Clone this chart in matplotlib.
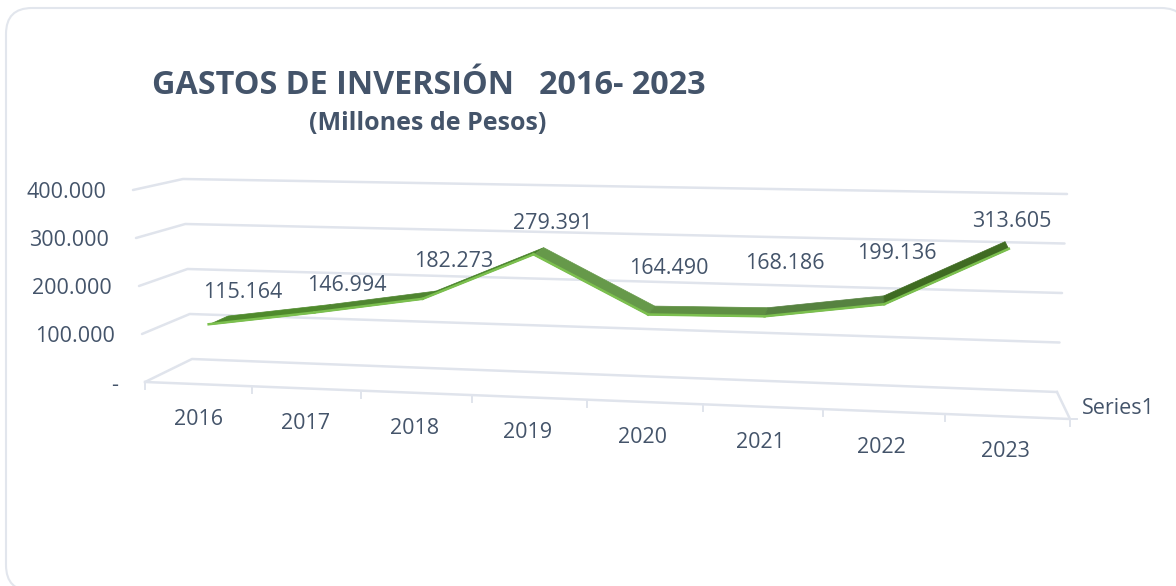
import matplotlib
matplotlib.use("Agg")
from matplotlib import pyplot as plt
from matplotlib.patches import FancyBboxPatch

years = ["2016", "2017", "2018", "2019", "2020", "2021", "2022", "2023"]
gastos = [115164, 146994, 182273, 279391, 164490, 168186, 199136, 313605]
axis_values = [0, 100000, 200000, 300000, 400000]
axis_labels = ["-", "100.000", "200.000", "300.000", "400.000"]
series_name = "Series1"

# label offsets from the ribbon, in pixels
label_dx = [30, 29, 28, 16, 18, 18, 11, 2]
label_dy = [-28, -24, -34, -28, -42, -49, -47, -24]
# shade of each ribbon segment
top_colors = ["#4f8a2c", "#4f8530", "#47802a", "#66994a", "#5f8f43", "#568240", "#3f6b22"]

text_color = "#44546a"
grid_color = "#e0e4ec"
front_color = "#7cc04f"
y_max = 400000.0
n = len(years)


# Excel 3-D look: category and value axes mapped on a perspective box
def project(u, v, d):
    r = 1.095
    s = u / (u + (n - u) * r)
    f = v / y_max
    fx = (1 - s) * (145 - 12 * f) + s * (1070 + 10 * f)
    fy = (1 - s) * (382 - 192 * f) + s * (419 - 210 * f)
    bx = (1 - s) * (192 - 9 * f) + s * (1057 + 10 * f)
    by = (1 - s) * (359 - 180 * f) + s * (392 - 198 * f)
    return fx + (bx - fx) * d, fy + (by - fy) * d


# small correction so the ribbon sits where Excel put it
def ribbon_u(i):
    return i + 0.5 + 0.045 - 0.01 * i


plt.rcParams["font.family"] = ["Open Sans", "DejaVu Sans"]
fig = plt.figure(figsize=(11.76, 5.86), dpi=100)
ax = fig.add_axes([0, 0, 1, 1])
ax.set_xlim(0, 1176)
ax.set_ylim(586, 0)
ax.axis("off")

card = FancyBboxPatch((6, 8), 1181, 583, boxstyle="round,pad=0,rounding_size=26",
                      fc="white", ec="#e2e6ed", lw=1.5)
ax.add_patch(card)

# gridlines with the wall part
for v, lab in zip(axis_values, axis_labels):
    a = project(0, v, 0)
    b = project(0, v, 1)
    c = project(n, v, 1)
    ax.plot([a[0], b[0], c[0]], [a[1], b[1], c[1]], color=grid_color, lw=1.8, solid_capstyle="round")
    ax.text(a[0] - 27 if v else 118, a[1] + 3, lab, color=text_color, fontsize=15.5, ha="right", va="center")

# floor front edge, right edge, ticks
a = project(0, 0, 0)
b = project(n, 0, 0)
c = project(n, 0, 1)
ax.plot([a[0], b[0], c[0]], [a[1], b[1], c[1]], color=grid_color, lw=1.8)
ax.plot([b[0], b[0] + 7], [b[1], b[1]], color=grid_color, lw=1.4)
for i in range(n + 1):
    t = project(i, 0, 0)
    ax.plot([t[0], t[0]], [t[1], t[1] + 7], color=grid_color, lw=1.4)
for i, y in enumerate(years):
    t = project(i + 0.5, 0, 0)
    ax.text(t[0] - (2 if i > 1 else 0), t[1] + 35.5, y, color=text_color, fontsize=15.5, ha="center", va="center")
ax.text(b[0] + 12, b[1] - 11, series_name, color=text_color, fontsize=15.5, ha="left", va="center")

# the ribbon
front = 0.2
back = 0.64
for i in range(n - 1):
    p1 = project(ribbon_u(i), gastos[i], front)
    p2 = project(ribbon_u(i + 1), gastos[i + 1], front)
    p3 = project(ribbon_u(i + 1), gastos[i + 1], back)
    p4 = project(ribbon_u(i), gastos[i], back)
    ax.fill([p1[0], p2[0], p3[0], p4[0]], [p1[1], p2[1], p3[1], p4[1]], color=top_colors[i], lw=0.5, zorder=3)
    ax.plot([p1[0], p2[0]], [p1[1] - 0.5, p2[1] - 0.5], color=front_color, lw=1.8, zorder=4)

for i, v in enumerate(gastos):
    p = project(i + 0.5, v, 0.4)
    txt = f"{v:,}".replace(",", ".")
    ax.text(p[0] + label_dx[i], p[1] + label_dy[i], txt, color=text_color, fontsize=15.5,
            ha="center", va="center", zorder=5)

ax.text(429, 85, "GASTOS DE INVERSIÓN   2016- 2023", color=text_color, fontsize=23.3, fontweight="bold",
        ha="center", va="center")
ax.text(428, 123, "(Millones de Pesos)", color=text_color, fontsize=18, fontweight="bold",
        ha="center", va="center")

fig.savefig("out.png", dpi=100)
